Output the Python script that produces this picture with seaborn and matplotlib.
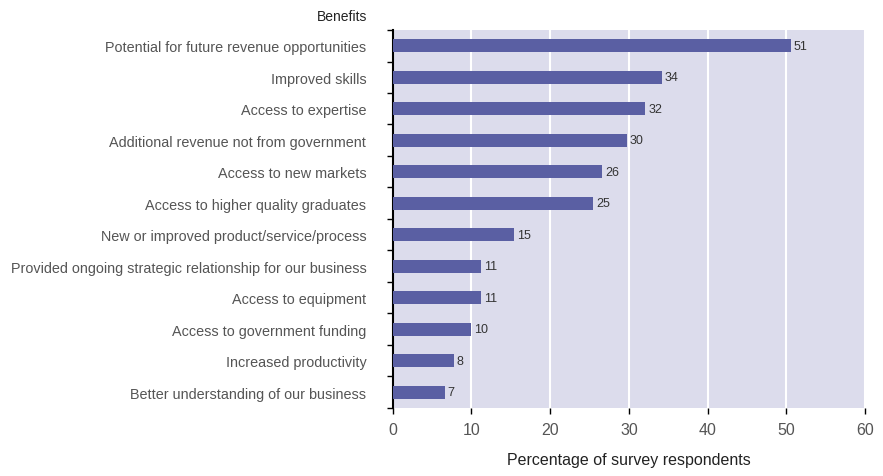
import pandas as pd
import seaborn as sns
import matplotlib.pyplot as plt
from matplotlib.ticker import FixedLocator

benefits = [
    "Potential for future revenue opportunities",
    "Improved skills",
    "Access to expertise",
    "Additional revenue not from government",
    "Access to new markets",
    "Access to higher quality graduates",
    "New or improved product/service/process",
    "Provided ongoing strategic relationship for our business",
    "Access to equipment",
    "Access to government funding",
    "Increased productivity",
    "Better understanding of our business",
]
# bar lengths (labels are the rounded figures)
share = [50.6, 34.2, 32.1, 29.8, 26.6, 25.5, 15.4, 11.2, 11.2, 9.95, 7.8, 6.6]
labels = ["51", "34", "32", "30", "26", "25", "15", "11", "11", "10", "8", "7"]

df = pd.DataFrame({"benefit": benefits, "share": share})

sns.set_style("white")
plt.rcParams["font.family"] = ["Liberation Sans", "DejaVu Sans"]

fig = plt.figure(figsize=(8.83, 4.77), dpi=100)
ax = fig.add_axes([0.4447, 0.1426, 0.5349, 0.7924])
ax.set_facecolor("#dcdcec")

sns.barplot(data=df, y="benefit", x="share", color="#5a5fa3", width=0.42,
            saturation=1, linewidth=0, ax=ax, zorder=3)

for i, (v, lab) in enumerate(zip(share, labels)):
    ax.text(v + 0.35, i, lab, va="center", ha="left", fontsize=9, color="#333333")

ax.set_xlim(0, 60)
ax.set_ylim(len(benefits) - 0.5, -0.5)
ax.set_xticks(range(0, 61, 10))
ax.grid(axis="x", color="white", linewidth=1.5, zorder=1)
ax.set_axisbelow(True)

ax.yaxis.set_minor_locator(FixedLocator([i - 0.5 for i in range(len(benefits) + 1)]))
ax.tick_params(axis="y", which="major", length=0, labelsize=10.4, labelcolor="#555555", pad=19)
ax.tick_params(axis="y", which="minor", length=4, width=1, color="black", left=True)
ax.tick_params(axis="x", length=4, width=1, color="black", labelsize=11.5,
               labelcolor="#555555", bottom=True, pad=6)

for s in ["top", "right", "bottom"]:
    ax.spines[s].set_visible(False)
ax.spines["left"].set_color("black")
ax.spines["left"].set_linewidth(1.5)

ax.set_ylabel("")
ax.set_xlabel("Percentage of survey respondents", fontsize=11.5, color="#222222", labelpad=11)
fig.text(0.4157, 0.965, "Benefits", ha="right", va="center", fontsize=10, color="#222222")

plt.savefig("out.png", dpi=100)
